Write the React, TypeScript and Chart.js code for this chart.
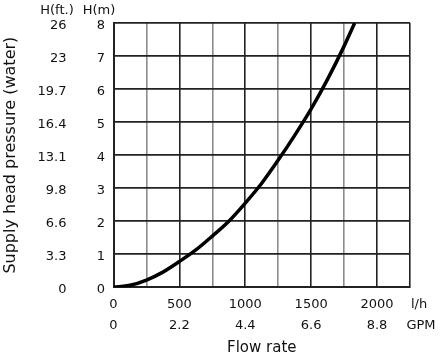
import React, { useEffect, useRef } from "react";
import { Chart, registerables } from "chart.js";

Chart.register(...registerables);

// Flow rate (l/h) and supply head pressure (m)
const flowLh = [0, 125, 250, 375, 500, 625, 750, 875, 1000, 1125, 1250, 1375, 1500, 1625, 1750, 1830];
const headM = [0, 0.06, 0.22, 0.46, 0.78, 1.13, 1.55, 2.0, 2.55, 3.15, 3.85, 4.6, 5.4, 6.3, 7.3, 8.0];

// Tick labels
const lhLabels = ["0", "500", "1000", "1500", "2000"];
const gpmLabels = ["0", "2.2", "4.4", "6.6", "8.8"];
const ftLabels = ["0", "3.3", "6.6", "9.8", "13.1", "16.4", "19.7", "23", "26"];
const headerLabels = ["H(ft.)", "H(m)"];
const unitLabels = ["l/h", "GPM"];

const FONT = '"DejaVu Sans", sans-serif';
const TEXT = "#111";
const DARK = "#222";
const GRAY = "#8c8c8c";

const extraText = {
  id: "extraText",
  afterDraw(chart: any) {
    const ctx = chart.ctx;
    ctx.save();
    ctx.font = `13px ${FONT}`;
    ctx.fillStyle = TEXT;
    ctx.textAlign = "center";
    ctx.textBaseline = "middle";
    ctx.fillText(headerLabels[0], 57, 10.5);
    ctx.fillText(headerLabels[1], 99, 10.5);
    ctx.fillText(unitLabels[0], 419, 304.5);
    ctx.fillText(unitLabels[1], 421, 325.3);
    ctx.restore();
  },
};

export default function App() {
  const ref = useRef<HTMLCanvasElement>(null);
  useEffect(() => {
    if (!ref.current) return;
    const chart = new Chart(ref.current, {
      type: "line",
      data: {
        datasets: [
          {
            data: flowLh.map((x, i) => ({ x, y: headM[i] })),
            borderColor: "#000",
            borderWidth: 3.5,
            pointRadius: 0,
            cubicInterpolationMode: "monotone",
            fill: false,
            xAxisID: "x",
            yAxisID: "y",
          },
        ],
      },
      options: {
        animation: false,
        responsive: false,
        maintainAspectRatio: false,
        layout: { padding: { top: 23, right: 34, bottom: 0, left: 0 } },
        plugins: { legend: { display: false }, tooltip: { enabled: false } },
        scales: {
          x: {
            type: "linear",
            position: "bottom",
            min: 0,
            max: 2250,
            afterFit: (s: any) => {
              s.height = 68.7;
            },
            ticks: {
              stepSize: 250,
              autoSkip: false,
              maxRotation: 0,
              padding: 7,
              color: TEXT,
              font: { family: FONT, size: 13, lineHeight: 1.6 },
              callback: (v: any) => {
                const i = Number(v) / 500;
                if (Number.isInteger(i) && i < lhLabels.length) return [lhLabels[i], gpmLabels[i]];
                return "";
              },
            },
            grid: {
              drawTicks: false,
              lineWidth: 1.6,
              color: (c: any) =>
                c.tick && (c.tick.value % 500 === 0 || c.tick.value === 2250) ? DARK : GRAY,
            },
            border: { display: true, color: DARK, width: 2 },
            title: {
              display: true,
              text: "Flow rate",
              color: TEXT,
              font: { family: FONT, size: 15, lineHeight: 1.0 },
              padding: 0,
            },
          },
          y: {
            type: "linear",
            position: "left",
            weight: 0,
            min: 0,
            max: 8,
            afterFit: (s: any) => {
              s.width = 39.5;
            },
            ticks: {
              stepSize: 1,
              padding: 8.5,
              labelOffset: 2.5,
              color: TEXT,
              font: { family: FONT, size: 13 },
            },
            grid: { drawTicks: false, lineWidth: 1.8, color: DARK },
            border: { display: true, color: DARK, width: 2 },
          },
          y2: {
            type: "linear",
            position: "left",
            weight: 1,
            min: 0,
            max: 8,
            afterFit: (s: any) => {
              s.width = 74;
            },
            ticks: {
              stepSize: 1,
              padding: 7.5,
              labelOffset: 2.5,
              color: TEXT,
              font: { family: FONT, size: 13 },
              callback: (_v: any, i: number) => ftLabels[i],
            },
            grid: { display: false, drawTicks: false },
            border: { display: false },
            title: {
              display: true,
              text: "Supply head pressure (water)",
              color: TEXT,
              font: { family: FONT, size: 16, lineHeight: 1.3 },
              padding: 0,
            },
          },
        },
      },
      plugins: [extraText],
    } as any);
    return () => chart.destroy();
  }, []);
  return (
    <div style={{ position: "absolute", left: 0, top: 0, width: 444, height: 356, background: "#fff" }}>
      <canvas ref={ref} width={444} height={356} style={{ width: 444, height: 356, display: "block" }} />
    </div>
  );
}
